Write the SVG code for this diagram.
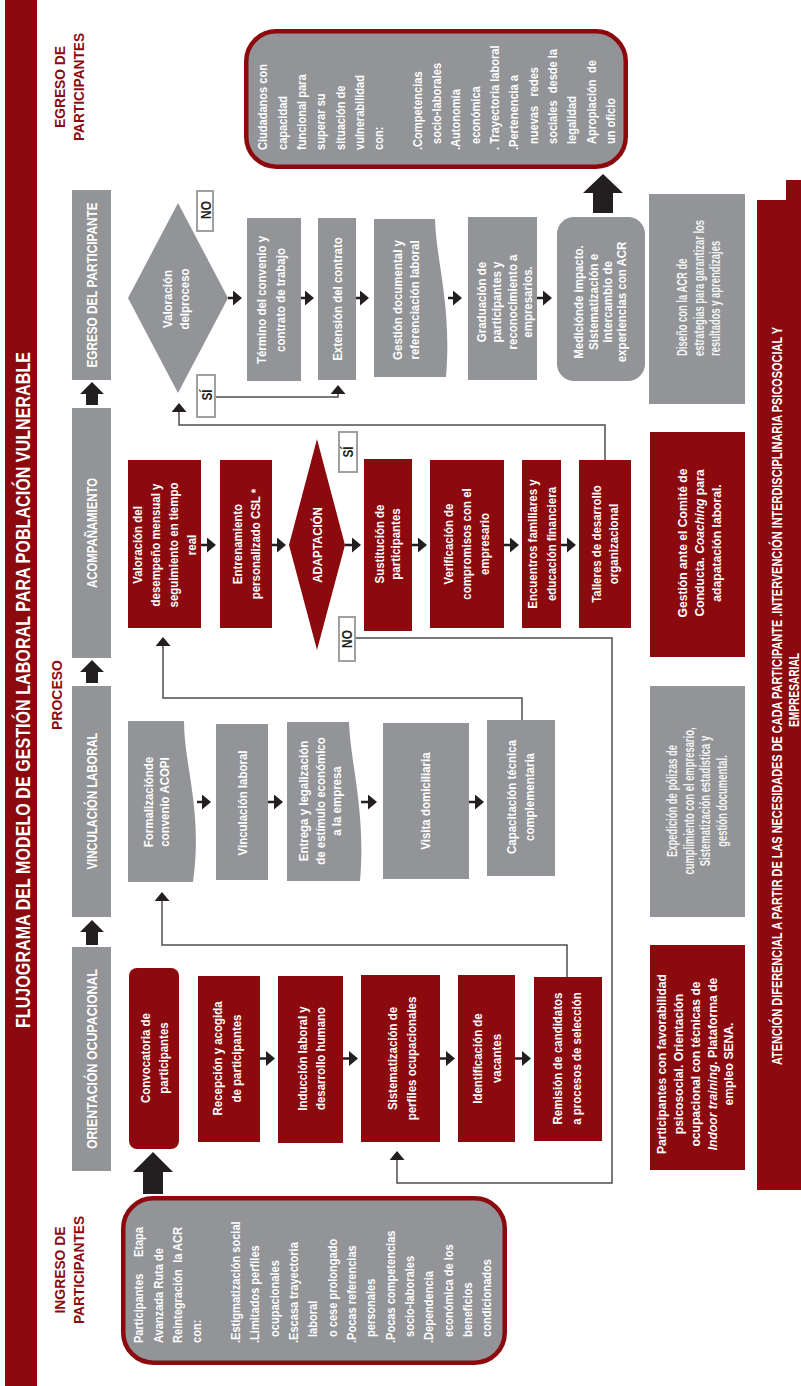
<svg xmlns="http://www.w3.org/2000/svg" width="801" height="1386" viewBox="0 0 801 1386">
<style>
  .red { fill: #8c0a0e; }
  .gray { fill: #929497; }
  .f { font-family: "Liberation Sans", Arial, sans-serif; }
  .t { font-family: "Liberation Sans", Arial, sans-serif; font-size: 13.5px; font-weight: 700; fill: #ffffff; text-anchor: middle; }
  .tn { font-family: "Liberation Sans", Arial, sans-serif; font-size: 14.5px; font-weight: 700; fill: #f4f4f4; text-anchor: middle; }
  .bt { font-family: "Liberation Sans", Arial, sans-serif; font-size: 13.5px; font-weight: 700; fill: #ffffff; }
  .hd { font-family: "Liberation Sans", Arial, sans-serif; font-size: 15px; font-weight: 700; fill: #ffffff; text-anchor: middle; }
  .lbl { font-family: "Liberation Sans", Arial, sans-serif; font-size: 15px; font-weight: 700; fill: #8c0a0e; text-anchor: middle; }
  .flow { stroke: #231f20; stroke-width: 2.5; fill: none; marker-end: url(#ah); }
  .conn { stroke: #4d4d4f; stroke-width: 1.5; fill: none; marker-end: url(#ah); }
  .tag rect { fill: #ffffff; stroke: #a0a0a2; stroke-width: 2; }
  .tag text { font-family: "Liberation Sans", Arial, sans-serif; font-size: 14px; font-weight: 700; fill: #231f20; text-anchor: middle; }
  .big { fill: #231f20; }
  .frame { fill: #929497; stroke: #8c0a0e; stroke-width: 4.5; }
</style>
<defs>
  <marker id="ah" markerUnits="userSpaceOnUse" markerWidth="9" markerHeight="15" refX="4" refY="7.5" orient="auto">
    <path d="M0,0 L9,7.5 L0,15 Z" fill="#231f20"/>
  </marker>
</defs>
<rect x="0" y="0" width="801" height="1386" fill="#ffffff"/>

<!-- the sheet is laid out landscape and turned a quarter to the left;
     text blocks are narrowed with a horizontal scale to get a condensed face -->
<g id="sheet" transform="translate(0 1386) rotate(-90)">

  <!-- title band -->
  <g id="title">
    <rect class="red" x="0" y="5" width="1386" height="32"/>
    <text class="f" x="696" y="30" font-size="21" font-weight="700" fill="#ffffff" text-anchor="middle" textLength="676" lengthAdjust="spacingAndGlyphs">FLUJOGRAMA DEL MODELO DE GESTIÓN LABORAL PARA POBLACIÓN VULNERABLE</text>
  </g>

  <!-- stage labels -->
  <g id="stage-labels">
    <text class="lbl" x="116" y="65" textLength="87" lengthAdjust="spacingAndGlyphs">INGRESO DE</text>
    <text class="lbl" x="116" y="84" textLength="108" lengthAdjust="spacingAndGlyphs">PARTICIPANTES</text>
    <text class="lbl" x="691" y="62" textLength="70" lengthAdjust="spacingAndGlyphs">PROCESO</text>
    <text class="lbl" x="1299" y="65" textLength="82" lengthAdjust="spacingAndGlyphs">EGRESO DE</text>
    <text class="lbl" x="1299" y="84" textLength="108" lengthAdjust="spacingAndGlyphs">PARTICIPANTES</text>
  </g>

  <!-- phase headers -->
  <g id="phase-orientacion">
    <rect class="gray" x="215" y="72" width="224" height="39"/>
    <text class="hd" x="327" y="97" textLength="180" lengthAdjust="spacingAndGlyphs">ORIENTACIÓN OCUPACIONAL</text>
  </g>
  <g id="phase-vinculacion">
    <rect class="gray" x="469" y="72" width="231" height="39"/>
    <text class="hd" x="585" y="97" textLength="137" lengthAdjust="spacingAndGlyphs">VINCULACIÓN LABORAL</text>
  </g>
  <g id="phase-acompanamiento">
    <rect class="gray" x="728" y="72" width="250" height="39"/>
    <text class="hd" x="853" y="97" textLength="110" lengthAdjust="spacingAndGlyphs">ACOMPAÑAMIENTO</text>
  </g>
  <g id="phase-egreso">
    <rect class="gray" x="1006" y="72" width="190" height="39"/>
    <text class="hd" x="1101" y="97" textLength="165" lengthAdjust="spacingAndGlyphs">EGRESO DEL PARTICIPANTE</text>
  </g>

  <!-- entry and exit boxes -->
  <g id="ingreso">
    <rect class="frame" x="23.25" y="123.25" width="164.5" height="381.5" rx="30"/>
    <g class="bt" transform="translate(43 0) scale(0.82 1)">
      <text x="0" y="143.5">Participantes</text>
      <text x="141.5" y="143.5" text-anchor="end">Etapa</text>
      <text x="0" y="162.8">Avanzada Ruta de</text>
      <text x="0" y="182.2">Reintegración</text>
      <text x="141.5" y="182.2" text-anchor="end">la ACR</text>
      <text x="0" y="201.5">con:</text>
      <text x="0" y="240.2">.Estigmatización social</text>
      <text x="0" y="259.5">.Limitados perfiles</text>
      <text x="7.3" y="278.8">ocupacionales</text>
      <text x="0" y="298.1">.Escasa trayectoria</text>
      <text x="7.3" y="317.5">laboral</text>
      <text x="7.3" y="336.8">o cese prolongado</text>
      <text x="0" y="356.1">.Pocas referencias</text>
      <text x="7.3" y="375.5">personales</text>
      <text x="0" y="394.8">.Pocas competencias</text>
      <text x="7.3" y="414.1">socio-laborales</text>
      <text x="0" y="433.5">.Dependencia</text>
      <text x="7.3" y="452.8">económica de los</text>
      <text x="7.3" y="472.1">beneficios</text>
      <text x="7.3" y="491.4">condicionados</text>
    </g>
  </g>

  <g id="egreso">
    <rect class="frame" x="1219.25" y="246.25" width="135.5" height="379.5" rx="30"/>
    <g class="bt" transform="translate(1236 0) scale(0.82 1)">
      <text x="0" y="267.5">Ciudadanos con</text>
      <text x="0" y="286.8">capacidad</text>
      <text x="0" y="306.1">funcional para</text>
      <text x="0" y="325.4">superar su</text>
      <text x="0" y="344.7">situación de</text>
      <text x="0" y="364">vulnerabilidad</text>
      <text x="0" y="383.3">con:</text>
      <text x="0" y="421.9">.Competencias</text>
      <text x="7.3" y="441.2">socio-laborales</text>
      <text x="0" y="460.5">.Autonomía</text>
      <text x="7.3" y="479.8">económica</text>
      <text x="0" y="499.1">. Trayectoria laboral</text>
      <text x="0" y="518.4">.Pertenencia a</text>
      <text x="7.3" y="537.7">nuevas</text>
      <text x="101.2" y="537.7" text-anchor="end">redes</text>
      <text x="7.3" y="557">sociales</text>
      <text x="123.2" y="557" text-anchor="end">desde la</text>
      <text x="7.3" y="576.3">legalidad</text>
      <text x="7.3" y="595.6">Apropiación</text>
      <text x="109.8" y="595.6" text-anchor="end">de</text>
      <text x="7.3" y="614.9">un oficio</text>
    </g>
  </g>

  <!-- block arrows -->
  <g id="block-arrows">
    <path class="big" d="M441 86 H454 V80 L466 92 L454 104 V98 H441 Z"/>
    <path class="big" d="M703 86 H714 V80 L726 92 L714 104 V98 H703 Z"/>
    <path class="big" d="M981 86 H992 V80 L1004 92 L992 104 V98 H981 Z"/>
    <path class="big" d="M192 143 H214 V133 L234 153 L214 173 V163 H192 Z"/>
    <path class="big" d="M1173 593 H1193 V583 L1212 603 L1193 623 V613 H1173 Z"/>
  </g>

  <!-- Orientación ocupacional -->
  <g id="n-convocatoria">
    <rect class="red" x="237" y="129" width="181" height="50" rx="8"/>
    <g transform="translate(328 0) scale(0.85 1)"><text class="t"><tspan x="0" y="150.5">Convocatoria de</tspan><tspan x="0" y="168.5">participantes</tspan></text></g>
  </g>
  <g id="n-recepcion">
    <rect class="red" x="244" y="198" width="166" height="62"/>
    <g transform="translate(327.5 0) scale(0.85 1)"><text class="t"><tspan x="0" y="222.5">Recepción y acogida</tspan><tspan x="0" y="241.5">de participantes</tspan></text></g>
  </g>
  <g id="n-induccion">
    <rect class="red" x="243" y="278" width="167" height="65"/>
    <g transform="translate(327.5 0) scale(0.85 1)"><text class="t"><tspan x="0" y="307.5">Inducción laboral y</tspan><tspan x="0" y="325">desarrollo humano</tspan></text></g>
  </g>
  <g id="n-perfiles">
    <rect class="red" x="244" y="361" width="167" height="79"/>
    <g transform="translate(327.5 0) scale(0.85 1)"><text class="t"><tspan x="0" y="397.5">Sistematización de</tspan><tspan x="0" y="416.5">perfiles ocupacionales</tspan></text></g>
  </g>
  <g id="n-vacantes">
    <rect class="red" x="244" y="458" width="167" height="57"/>
    <g transform="translate(327.5 0) scale(0.85 1)"><text class="t"><tspan x="0" y="482.5">Identificación de</tspan><tspan x="0" y="501.5">vacantes</tspan></text></g>
  </g>
  <g id="n-remision">
    <rect class="red" x="245" y="534" width="164" height="68"/>
    <g transform="translate(327.5 0) scale(0.85 1)"><text class="t"><tspan x="0" y="562.5">Remisión de candidatos</tspan><tspan x="0" y="581.5">a procesos de selección</tspan></text></g>
  </g>

  <!-- Vinculación laboral -->
  <g id="n-formalizacion">
    <path class="gray" d="M504 128 H665 V184 C620 184 575 203 504 193 Z"/>
    <g transform="translate(584 0) scale(0.85 1)"><text class="t"><tspan x="0" y="153.5">Formalizaciónde</tspan><tspan x="0" y="169.5">convenio ACOPI</tspan></text></g>
  </g>
  <g id="n-vinculacion">
    <rect class="gray" x="506" y="216" width="156" height="52"/>
    <g transform="translate(583 0) scale(0.85 1)"><text class="t" x="0" y="247.5">Vinculación laboral</text></g>
  </g>
  <g id="n-entrega">
    <path class="gray" d="M505 287 H664 V349 C625 350 575 366 505 360 Z"/>
    <g transform="translate(585 0) scale(0.85 1)"><text class="t"><tspan x="0" y="308.5">Entrega y legalización</tspan><tspan x="0" y="325">de estímulo económico</tspan><tspan x="0" y="341.5">a la empresa</tspan></text></g>
  </g>
  <g id="n-visita">
    <rect class="gray" x="507" y="383" width="156" height="86"/>
    <g transform="translate(585 0) scale(0.85 1)"><text class="t" x="0" y="430.5">Visita domiciliaria</text></g>
  </g>
  <g id="n-capacitacion">
    <rect class="gray" x="510" y="487" width="156" height="68"/>
    <g transform="translate(589 0) scale(0.85 1)"><text class="t"><tspan x="0" y="516.5">Capacitación técnica</tspan><tspan x="0" y="534.5">complementaria</tspan></text></g>
  </g>

  <!-- Acompañamiento -->
  <g id="n-desempeno">
    <rect class="red" x="758" y="128" width="168" height="73"/>
    <g transform="translate(841 0) scale(0.85 1)"><text class="t"><tspan x="0" y="142.5">Valoración del</tspan><tspan x="0" y="160.5">desempeño mensual y</tspan><tspan x="0" y="178.5">seguimiento en  tiempo</tspan><tspan x="0" y="196.5">real</tspan></text></g>
  </g>
  <g id="n-entrenamiento">
    <rect class="red" x="758" y="220" width="168" height="52"/>
    <g transform="translate(842 0) scale(0.85 1)"><text class="t"><tspan x="0" y="242.5">Entrenamiento</tspan><tspan x="0" y="260.5">personalizado CSL *</tspan></text></g>
  </g>
  <g id="n-adaptacion">
    <polygon class="red" points="736,317 841,289 947,317 841,345"/>
    <g transform="translate(841 0) scale(0.85 1)"><text class="t" x="0" y="322">ADAPTACIÓN</text></g>
  </g>
  <g id="n-sustitucion">
    <rect class="red" x="755" y="364" width="172" height="48"/>
    <g transform="translate(842 0) scale(0.85 1)"><text class="t"><tspan x="0" y="384.5">Sustitución de</tspan><tspan x="0" y="400">participantes</tspan></text></g>
  </g>
  <g id="n-verificacion">
    <rect class="red" x="758" y="430" width="168" height="74"/>
    <g transform="translate(842 0) scale(0.85 1)"><text class="t"><tspan x="0" y="453.5">Verificación de</tspan><tspan x="0" y="471.5">compromisos con el</tspan><tspan x="0" y="489.5">empresario</tspan></text></g>
  </g>
  <g id="n-encuentros">
    <rect class="red" x="758" y="522" width="168" height="39"/>
    <g transform="translate(842 0) scale(0.85 1)"><text class="t"><tspan x="0" y="537.5">Encuentros familiares y</tspan><tspan x="0" y="556">educación financiera</tspan></text></g>
  </g>
  <g id="n-talleres">
    <rect class="red" x="758" y="579" width="168" height="52"/>
    <g transform="translate(842 0) scale(0.85 1)"><text class="t"><tspan x="0" y="601">Talleres de desarrollo</tspan><tspan x="0" y="618.5">organizacional</tspan></text></g>
  </g>

  <!-- Egreso del participante -->
  <g id="n-valoracion-proceso">
    <polygon class="gray" points="993,178 1088,128 1183,178 1088,228"/>
    <g transform="translate(1087 0) scale(0.85 1)"><text class="t"><tspan x="0" y="172.5">Valoración</tspan><tspan x="0" y="189.5">delproceso</tspan></text></g>
  </g>
  <g id="n-termino">
    <rect class="gray" x="1005" y="247" width="163" height="54"/>
    <g transform="translate(1086 0) scale(0.85 1)"><text class="t"><tspan x="0" y="266.5">Término del convenio y</tspan><tspan x="0" y="285.5">contrato  de trabajo</tspan></text></g>
  </g>
  <g id="n-extension">
    <rect class="gray" x="1006" y="318" width="162" height="38"/>
    <g transform="translate(1087 0) scale(0.85 1)"><text class="t" x="0" y="342.5">Extensión del contrato</text></g>
  </g>
  <g id="n-gestion-documental">
    <path class="gray" d="M1009 374 H1167 V435 C1125 436 1080 452 1009 446 Z"/>
    <g transform="translate(1086 0) scale(0.85 1)"><text class="t"><tspan x="0" y="402.5">Gestión documental y</tspan><tspan x="0" y="419.5">referenciación laboral</tspan></text></g>
  </g>
  <g id="n-graduacion">
    <rect class="gray" x="1006" y="468" width="163" height="69"/>
    <g transform="translate(1084 0) scale(0.85 1)"><text class="t"><tspan x="0" y="486">Graduación de</tspan><tspan x="0" y="501.5">participantes y</tspan><tspan x="0" y="517">reconocimiento a</tspan><tspan x="0" y="532.5">empresarios.</tspan></text></g>
  </g>
  <g id="n-medicion">
    <rect class="gray" x="1005" y="557" width="164" height="88" rx="17"/>
    <g transform="translate(1084 0) scale(0.85 1)"><text class="t"><tspan x="0" y="583">Mediciónde impacto.</tspan><tspan x="0" y="598.5">Sistematización e</tspan><tspan x="0" y="612.5">intercambio de</tspan><tspan x="0" y="626.5">experiencias con ACR</tspan></text></g>
  </g>

  <!-- decision tags -->
  <g id="tag-no-proceso" class="tag">
    <rect x="1155" y="197" width="40" height="16"/>
    <g transform="translate(1176 0) scale(0.85 1)"><text x="0" y="211">NO</text></g>
  </g>
  <g id="tag-si-proceso" class="tag">
    <rect x="969" y="197" width="42" height="18"/>
    <g transform="translate(991 0) scale(0.85 1)"><text x="0" y="212">SÍ</text></g>
  </g>
  <g id="tag-si-adaptacion" class="tag">
    <rect x="914" y="339" width="40" height="18"/>
    <g transform="translate(934 0) scale(0.85 1)"><text x="0" y="353">SÍ</text></g>
  </g>
  <g id="tag-no-adaptacion" class="tag">
    <rect x="725" y="339" width="44" height="16"/>
    <g transform="translate(747 0) scale(0.85 1)"><text x="0" y="352.5">NO</text></g>
  </g>

  <!-- support boxes -->
  <g id="s-favorabilidad">
    <rect class="red" x="216" y="650" width="225" height="95"/>
    <g transform="translate(322 0) scale(0.9 1)"><text class="t"><tspan x="0" y="666.5">Participantes con favorabilidad</tspan><tspan x="0" y="683.2">psicosocial. Orientación</tspan><tspan x="0" y="700">ocupacional  con técnicas de</tspan><tspan x="0" y="716.7"><tspan font-style="italic">Indoor training</tspan>. Plataforma de</tspan><tspan x="0" y="733.5">empleo SENA.</tspan></text></g>
  </g>
  <g id="s-polizas">
    <rect class="gray" x="469" y="650" width="231" height="95"/>
    <g transform="translate(585 0) scale(0.65 1)"><text class="tn"><tspan x="0" y="677.5">Expedición de pólizas de</tspan><tspan x="0" y="694">cumplimiento con el empresario,</tspan><tspan x="0" y="710.5">Sistematización estadística  y</tspan><tspan x="0" y="727">gestión documental.</tspan></text></g>
  </g>
  <g id="s-comite">
    <rect class="red" x="729" y="650" width="225" height="95"/>
    <g transform="translate(843 0) scale(0.9 1)"><text class="t"><tspan x="0" y="687.5">Gestión ante el Comité de</tspan><tspan x="0" y="704.5">Conducta. <tspan font-style="italic">Coaching</tspan> para</tspan><tspan x="0" y="721.5">adapatación laboral.</tspan></text></g>
  </g>
  <g id="s-diseno">
    <rect class="gray" x="982" y="649" width="210" height="96"/>
    <g transform="translate(1030 0) scale(0.65 1)"><text class="tn" style="text-anchor:start"><tspan x="0" y="687.5">Diseño con la ACR de</tspan><tspan x="0" y="704">estrategias para garantizar los</tspan><tspan x="0" y="720.5">resultados y aprendizajes</tspan></text></g>
  </g>

  <!-- cross-cutting band -->
  <g id="band-atencion">
    <rect class="red" x="196" y="757" width="990" height="44"/>
    <rect class="red" x="1186" y="786" width="20" height="15"/>
    <text class="f" x="690" y="782" font-size="14" font-weight="700" fill="#ffffff" text-anchor="middle" textLength="738" lengthAdjust="spacingAndGlyphs">ATENCIÓN  DIFERENCIAL A PARTIR DE LAS NECESIDADES DE CADA PARTICIPANTE .INTERVENCIÓN  INTERDISCIPLINARIA PSICOSOCIAL Y</text>
    <text class="f" x="696" y="799" font-size="14" font-weight="700" fill="#ffffff" text-anchor="middle" textLength="74" lengthAdjust="spacingAndGlyphs">EMPRESARIAL</text>
  </g>

  <!-- connectors -->
  <g id="connectors">
    <line class="flow" x1="327.5" y1="260" x2="327.5" y2="270"/>
    <line class="flow" x1="327.5" y1="343" x2="327.5" y2="353"/>
    <line class="flow" x1="327.5" y1="440" x2="327.5" y2="450"/>
    <line class="flow" x1="327.5" y1="515" x2="327.5" y2="526"/>

    <line class="flow" x1="584" y1="197" x2="584" y2="206"/>
    <line class="flow" x1="584" y1="268" x2="584" y2="278"/>
    <line class="flow" x1="584" y1="361" x2="584" y2="372"/>
    <line class="flow" x1="584" y1="469" x2="584" y2="479"/>

    <line class="flow" x1="841" y1="201" x2="841" y2="211"/>
    <line class="flow" x1="841" y1="272" x2="841" y2="281"/>
    <line class="flow" x1="841" y1="345" x2="841" y2="356"/>
    <line class="flow" x1="841" y1="412" x2="841" y2="422"/>
    <line class="flow" x1="841" y1="504" x2="841" y2="514"/>
    <line class="flow" x1="841" y1="561" x2="841" y2="571"/>

    <line class="flow" x1="1088" y1="228" x2="1088" y2="237"/>
    <line class="flow" x1="1088" y1="301" x2="1088" y2="309"/>
    <line class="flow" x1="1088" y1="356" x2="1088" y2="364"/>
    <line class="flow" x1="1088" y1="448" x2="1088" y2="457"/>
    <line class="flow" x1="1088" y1="537" x2="1088" y2="547"/>

    <path class="conn" d="M409 567 H441 V162 H489"/>
    <path class="conn" d="M666 522 H688 V163 H744"/>
    <path class="conn" d="M748 356 V612 H203 V397 H230"/>
    <path class="conn" d="M926 605 H961 V179 H978"/>
    <path class="conn" d="M989 216 V338 H996"/>
  </g>
</g>
</svg>
